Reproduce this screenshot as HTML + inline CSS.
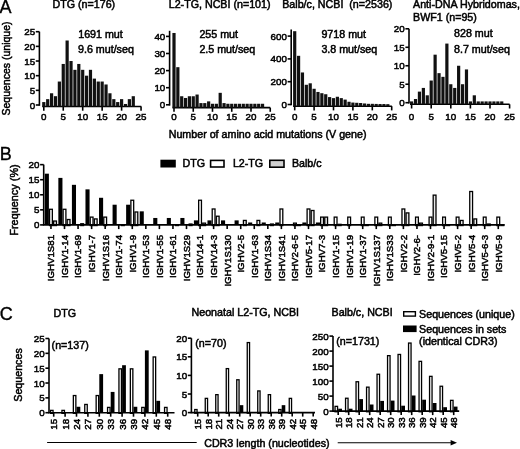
<!DOCTYPE html>
<html><head><meta charset="utf-8"><style>
html,body{margin:0;padding:0;background:#fff;}
body{width:520px;height:449px;overflow:hidden;}
svg{display:block;font-family:"Liberation Sans",sans-serif;filter:grayscale(1);}
text{stroke:#000;stroke-width:0.5px;}
</style></head><body>
<svg width="520" height="449" viewBox="0 0 520 449" fill="#000">
<rect x="0" y="0" width="520" height="449" fill="#fff"/>
<text x="-0.4" y="12.7" font-size="18" text-anchor="start" style="stroke-width:0.35px">A</text>
<text x="9.6" y="68.5" font-size="10.5" text-anchor="middle" transform="rotate(-90 9.6 68.5)">Sequences (unique)</text>
<text x="52.5" y="7.9" font-size="10.7" text-anchor="start">DTG (n=176)</text>
<text x="168.7" y="7.9" font-size="10.7" text-anchor="start">L2-TG, NCBI (n=101)</text>
<text x="282.2" y="7.9" font-size="10.7" text-anchor="start">Balb/c, NCBI&#160; (n=2536)</text>
<text x="413" y="8.3" font-size="10.7" text-anchor="start">Anti-DNA Hybridomas,</text>
<text x="413" y="21.4" font-size="10.7" text-anchor="start">BWF1 (n=95)</text>
<text x="78.2" y="37.8" font-size="10.7" text-anchor="start">1691 mut</text>
<text x="78" y="52.6" font-size="10.7" text-anchor="start">9.6 mut/seq</text>
<text x="199.4" y="37.6" font-size="10.7" text-anchor="start">255 mut</text>
<text x="199.4" y="53.4" font-size="10.7" text-anchor="start">2.5 mut/seq</text>
<text x="321.4" y="37.6" font-size="10.7" text-anchor="start">9718 mut</text>
<text x="321.4" y="53.4" font-size="10.7" text-anchor="start">3.8 mut/seq</text>
<text x="454" y="37.4" font-size="10.7" text-anchor="start">828 mut</text>
<text x="454" y="53" font-size="10.7" text-anchor="start">8.7 mut/seq</text>
<line x1="39.4" y1="31.7" x2="39.4" y2="105.8" stroke="#000" stroke-width="1.6"/>
<line x1="35.8" y1="105" x2="39.4" y2="105" stroke="#000" stroke-width="1.6"/>
<text x="35.1" y="108.53" font-size="9.8" text-anchor="end">0</text>
<line x1="35.8" y1="90.34" x2="39.4" y2="90.34" stroke="#000" stroke-width="1.6"/>
<text x="35.1" y="93.87" font-size="9.8" text-anchor="end">5</text>
<line x1="35.8" y1="75.68" x2="39.4" y2="75.68" stroke="#000" stroke-width="1.6"/>
<text x="35.1" y="79.21" font-size="9.8" text-anchor="end">10</text>
<line x1="35.8" y1="61.02" x2="39.4" y2="61.02" stroke="#000" stroke-width="1.6"/>
<text x="35.1" y="64.55" font-size="9.8" text-anchor="end">15</text>
<line x1="35.8" y1="46.36" x2="39.4" y2="46.36" stroke="#000" stroke-width="1.6"/>
<text x="35.1" y="49.89" font-size="9.8" text-anchor="end">20</text>
<line x1="35.8" y1="31.7" x2="39.4" y2="31.7" stroke="#000" stroke-width="1.6"/>
<text x="35.1" y="35.23" font-size="9.8" text-anchor="end">25</text>
<line x1="42.2" y1="106.5" x2="141.3" y2="106.5" stroke="#000" stroke-width="1.6"/>
<line x1="43.8" y1="106.5" x2="43.8" y2="110.7" stroke="#000" stroke-width="1.6"/>
<text x="43.8" y="120.4" font-size="9.8" text-anchor="middle">0</text>
<line x1="63.25" y1="106.5" x2="63.25" y2="110.7" stroke="#000" stroke-width="1.6"/>
<text x="63.25" y="120.4" font-size="9.8" text-anchor="middle">5</text>
<line x1="82.7" y1="106.5" x2="82.7" y2="110.7" stroke="#000" stroke-width="1.6"/>
<text x="82.7" y="120.4" font-size="9.8" text-anchor="middle">10</text>
<line x1="102.15" y1="106.5" x2="102.15" y2="110.7" stroke="#000" stroke-width="1.6"/>
<text x="102.15" y="120.4" font-size="9.8" text-anchor="middle">15</text>
<line x1="121.6" y1="106.5" x2="121.6" y2="110.7" stroke="#000" stroke-width="1.6"/>
<text x="121.6" y="120.4" font-size="9.8" text-anchor="middle">20</text>
<line x1="141.05" y1="106.5" x2="141.05" y2="110.7" stroke="#000" stroke-width="1.6"/>
<text x="141.05" y="120.4" font-size="9.8" text-anchor="middle">25</text>
<rect x="42.2" y="102.07" width="3.2" height="4.43" fill="#111"/>
<rect x="46.09" y="99.14" width="3.2" height="7.36" fill="#111"/>
<rect x="49.98" y="93.27" width="3.2" height="13.23" fill="#111"/>
<rect x="53.87" y="96.2" width="3.2" height="10.3" fill="#111"/>
<rect x="57.76" y="81.54" width="3.2" height="24.96" fill="#111"/>
<rect x="61.65" y="63.95" width="3.2" height="42.55" fill="#111"/>
<rect x="65.54" y="40.5" width="3.2" height="66" fill="#111"/>
<rect x="69.43" y="61.02" width="3.2" height="45.48" fill="#111"/>
<rect x="73.32" y="69.82" width="3.2" height="36.68" fill="#111"/>
<rect x="77.21" y="63.95" width="3.2" height="42.55" fill="#111"/>
<rect x="81.1" y="69.82" width="3.2" height="36.68" fill="#111"/>
<rect x="84.99" y="75.68" width="3.2" height="30.82" fill="#111"/>
<rect x="88.88" y="69.82" width="3.2" height="36.68" fill="#111"/>
<rect x="92.77" y="78.61" width="3.2" height="27.89" fill="#111"/>
<rect x="96.66" y="81.54" width="3.2" height="24.96" fill="#111"/>
<rect x="100.55" y="81.54" width="3.2" height="24.96" fill="#111"/>
<rect x="104.44" y="84.48" width="3.2" height="22.02" fill="#111"/>
<rect x="108.33" y="93.27" width="3.2" height="13.23" fill="#111"/>
<rect x="112.22" y="99.14" width="3.2" height="7.36" fill="#111"/>
<rect x="116.11" y="102.07" width="3.2" height="4.43" fill="#111"/>
<rect x="120" y="99.14" width="3.2" height="7.36" fill="#111"/>
<rect x="123.89" y="103.97" width="3.2" height="2.53" fill="#111"/>
<rect x="127.78" y="99.14" width="3.2" height="7.36" fill="#111"/>
<rect x="131.67" y="96.2" width="3.2" height="10.3" fill="#111"/>
<line x1="169.6" y1="30.8" x2="169.6" y2="105.6" stroke="#000" stroke-width="1.6"/>
<line x1="166" y1="104.8" x2="169.6" y2="104.8" stroke="#000" stroke-width="1.6"/>
<text x="165.3" y="108.33" font-size="9.8" text-anchor="end">0</text>
<line x1="166" y1="87.7" x2="169.6" y2="87.7" stroke="#000" stroke-width="1.6"/>
<text x="165.3" y="91.23" font-size="9.8" text-anchor="end">10</text>
<line x1="166" y1="70.6" x2="169.6" y2="70.6" stroke="#000" stroke-width="1.6"/>
<text x="165.3" y="74.13" font-size="9.8" text-anchor="end">20</text>
<line x1="166" y1="53.5" x2="169.6" y2="53.5" stroke="#000" stroke-width="1.6"/>
<text x="165.3" y="57.03" font-size="9.8" text-anchor="end">30</text>
<line x1="166" y1="36.4" x2="169.6" y2="36.4" stroke="#000" stroke-width="1.6"/>
<text x="165.3" y="39.93" font-size="9.8" text-anchor="end">40</text>
<line x1="172.4" y1="107.6" x2="270.2" y2="107.6" stroke="#000" stroke-width="1.6"/>
<line x1="174" y1="107.6" x2="174" y2="111.8" stroke="#000" stroke-width="1.6"/>
<text x="174" y="120.4" font-size="9.8" text-anchor="middle">0</text>
<line x1="193.25" y1="107.6" x2="193.25" y2="111.8" stroke="#000" stroke-width="1.6"/>
<text x="193.25" y="120.4" font-size="9.8" text-anchor="middle">5</text>
<line x1="212.5" y1="107.6" x2="212.5" y2="111.8" stroke="#000" stroke-width="1.6"/>
<text x="212.5" y="120.4" font-size="9.8" text-anchor="middle">10</text>
<line x1="231.75" y1="107.6" x2="231.75" y2="111.8" stroke="#000" stroke-width="1.6"/>
<text x="231.75" y="120.4" font-size="9.8" text-anchor="middle">15</text>
<line x1="251" y1="107.6" x2="251" y2="111.8" stroke="#000" stroke-width="1.6"/>
<text x="251" y="120.4" font-size="9.8" text-anchor="middle">20</text>
<line x1="270.25" y1="107.6" x2="270.25" y2="111.8" stroke="#000" stroke-width="1.6"/>
<text x="270.25" y="120.4" font-size="9.8" text-anchor="middle">25</text>
<rect x="172.4" y="32.98" width="3.2" height="74.62" fill="#111"/>
<rect x="176.25" y="67.18" width="3.2" height="40.42" fill="#111"/>
<rect x="180.1" y="96.25" width="3.2" height="11.35" fill="#111"/>
<rect x="183.95" y="97.96" width="3.2" height="9.64" fill="#111"/>
<rect x="187.8" y="96.25" width="3.2" height="11.35" fill="#111"/>
<rect x="191.65" y="96.25" width="3.2" height="11.35" fill="#111"/>
<rect x="195.5" y="94.54" width="3.2" height="13.06" fill="#111"/>
<rect x="199.35" y="103.09" width="3.2" height="4.51" fill="#111"/>
<rect x="203.2" y="103.09" width="3.2" height="4.51" fill="#111"/>
<rect x="207.05" y="101.38" width="3.2" height="6.22" fill="#111"/>
<rect x="210.9" y="103.77" width="3.2" height="3.83" fill="#111"/>
<rect x="214.75" y="103.77" width="3.2" height="3.83" fill="#111"/>
<rect x="218.6" y="92.83" width="3.2" height="14.77" fill="#111"/>
<rect x="222.45" y="103.09" width="3.2" height="4.51" fill="#111"/>
<rect x="226.3" y="103.77" width="3.2" height="3.83" fill="#111"/>
<rect x="230.15" y="103.77" width="3.2" height="3.83" fill="#111"/>
<rect x="234" y="103.77" width="3.2" height="3.83" fill="#111"/>
<rect x="237.85" y="103.77" width="3.2" height="3.83" fill="#111"/>
<rect x="241.7" y="103.77" width="3.2" height="3.83" fill="#111"/>
<rect x="245.55" y="103.77" width="3.2" height="3.83" fill="#111"/>
<rect x="249.4" y="103.77" width="3.2" height="3.83" fill="#111"/>
<rect x="253.25" y="103.77" width="3.2" height="3.83" fill="#111"/>
<rect x="257.1" y="103.77" width="3.2" height="3.83" fill="#111"/>
<rect x="260.95" y="103.77" width="3.2" height="3.83" fill="#111"/>
<line x1="291.2" y1="29.5" x2="291.2" y2="105.3" stroke="#000" stroke-width="1.6"/>
<line x1="287.6" y1="104.5" x2="291.2" y2="104.5" stroke="#000" stroke-width="1.6"/>
<text x="286.9" y="108.03" font-size="9.8" text-anchor="end">0</text>
<line x1="287.6" y1="81.7" x2="291.2" y2="81.7" stroke="#000" stroke-width="1.6"/>
<text x="286.9" y="85.23" font-size="9.8" text-anchor="end">200</text>
<line x1="287.6" y1="58.9" x2="291.2" y2="58.9" stroke="#000" stroke-width="1.6"/>
<text x="286.9" y="62.43" font-size="9.8" text-anchor="end">400</text>
<line x1="287.6" y1="36.1" x2="291.2" y2="36.1" stroke="#000" stroke-width="1.6"/>
<text x="286.9" y="39.63" font-size="9.8" text-anchor="end">600</text>
<line x1="293.1" y1="106.2" x2="391.9" y2="106.2" stroke="#000" stroke-width="1.6"/>
<line x1="294.7" y1="106.2" x2="294.7" y2="110.4" stroke="#000" stroke-width="1.6"/>
<text x="294.7" y="120.4" font-size="9.8" text-anchor="middle">0</text>
<line x1="314.1" y1="106.2" x2="314.1" y2="110.4" stroke="#000" stroke-width="1.6"/>
<text x="314.1" y="120.4" font-size="9.8" text-anchor="middle">5</text>
<line x1="333.5" y1="106.2" x2="333.5" y2="110.4" stroke="#000" stroke-width="1.6"/>
<text x="333.5" y="120.4" font-size="9.8" text-anchor="middle">10</text>
<line x1="352.9" y1="106.2" x2="352.9" y2="110.4" stroke="#000" stroke-width="1.6"/>
<text x="352.9" y="120.4" font-size="9.8" text-anchor="middle">15</text>
<line x1="372.3" y1="106.2" x2="372.3" y2="110.4" stroke="#000" stroke-width="1.6"/>
<text x="372.3" y="120.4" font-size="9.8" text-anchor="middle">20</text>
<line x1="391.7" y1="106.2" x2="391.7" y2="110.4" stroke="#000" stroke-width="1.6"/>
<text x="391.7" y="120.4" font-size="9.8" text-anchor="middle">25</text>
<rect x="293.1" y="31.2" width="3.2" height="75" fill="#111"/>
<rect x="296.98" y="55.82" width="3.2" height="50.38" fill="#111"/>
<rect x="300.86" y="72.47" width="3.2" height="33.73" fill="#111"/>
<rect x="304.74" y="84.78" width="3.2" height="21.42" fill="#111"/>
<rect x="308.62" y="83.3" width="3.2" height="22.9" fill="#111"/>
<rect x="312.5" y="88.77" width="3.2" height="17.43" fill="#111"/>
<rect x="316.38" y="91.96" width="3.2" height="14.24" fill="#111"/>
<rect x="320.26" y="93.21" width="3.2" height="12.99" fill="#111"/>
<rect x="324.14" y="94.24" width="3.2" height="11.96" fill="#111"/>
<rect x="328.02" y="97.09" width="3.2" height="9.11" fill="#111"/>
<rect x="331.9" y="98.12" width="3.2" height="8.08" fill="#111"/>
<rect x="335.78" y="96.75" width="3.2" height="9.45" fill="#111"/>
<rect x="339.66" y="98.12" width="3.2" height="8.08" fill="#111"/>
<rect x="343.54" y="99.6" width="3.2" height="6.6" fill="#111"/>
<rect x="347.42" y="101.76" width="3.2" height="4.44" fill="#111"/>
<rect x="351.3" y="102.56" width="3.2" height="3.64" fill="#111"/>
<rect x="355.18" y="102.79" width="3.2" height="3.41" fill="#111"/>
<rect x="359.06" y="103.02" width="3.2" height="3.18" fill="#111"/>
<rect x="362.94" y="103.47" width="3.2" height="2.73" fill="#111"/>
<rect x="366.82" y="103.82" width="3.2" height="2.38" fill="#111"/>
<rect x="370.7" y="103.82" width="3.2" height="2.38" fill="#111"/>
<rect x="374.58" y="103.93" width="3.2" height="2.27" fill="#111"/>
<rect x="378.46" y="104.04" width="3.2" height="2.16" fill="#111"/>
<rect x="382.34" y="104.04" width="3.2" height="2.16" fill="#111"/>
<rect x="386.22" y="104.16" width="3.2" height="2.04" fill="#111"/>
<line x1="409" y1="28.8" x2="409" y2="103.5" stroke="#000" stroke-width="1.6"/>
<line x1="405.4" y1="102.7" x2="409" y2="102.7" stroke="#000" stroke-width="1.6"/>
<text x="404.7" y="106.23" font-size="9.8" text-anchor="end">0</text>
<line x1="405.4" y1="84.23" x2="409" y2="84.23" stroke="#000" stroke-width="1.6"/>
<text x="404.7" y="87.75" font-size="9.8" text-anchor="end">5</text>
<line x1="405.4" y1="65.75" x2="409" y2="65.75" stroke="#000" stroke-width="1.6"/>
<text x="404.7" y="69.28" font-size="9.8" text-anchor="end">10</text>
<line x1="405.4" y1="47.28" x2="409" y2="47.28" stroke="#000" stroke-width="1.6"/>
<text x="404.7" y="50.8" font-size="9.8" text-anchor="end">15</text>
<line x1="405.4" y1="28.8" x2="409" y2="28.8" stroke="#000" stroke-width="1.6"/>
<text x="404.7" y="32.33" font-size="9.8" text-anchor="end">20</text>
<line x1="410" y1="104.3" x2="509.6" y2="104.3" stroke="#000" stroke-width="1.6"/>
<line x1="411.6" y1="104.3" x2="411.6" y2="108.5" stroke="#000" stroke-width="1.6"/>
<text x="411.6" y="120.4" font-size="9.8" text-anchor="middle">0</text>
<line x1="431.2" y1="104.3" x2="431.2" y2="108.5" stroke="#000" stroke-width="1.6"/>
<text x="431.2" y="120.4" font-size="9.8" text-anchor="middle">5</text>
<line x1="450.8" y1="104.3" x2="450.8" y2="108.5" stroke="#000" stroke-width="1.6"/>
<text x="450.8" y="120.4" font-size="9.8" text-anchor="middle">10</text>
<line x1="470.4" y1="104.3" x2="470.4" y2="108.5" stroke="#000" stroke-width="1.6"/>
<text x="470.4" y="120.4" font-size="9.8" text-anchor="middle">15</text>
<line x1="490" y1="104.3" x2="490" y2="108.5" stroke="#000" stroke-width="1.6"/>
<text x="490" y="120.4" font-size="9.8" text-anchor="middle">20</text>
<line x1="509.6" y1="104.3" x2="509.6" y2="108.5" stroke="#000" stroke-width="1.6"/>
<text x="509.6" y="120.4" font-size="9.8" text-anchor="middle">25</text>
<rect x="410" y="101.41" width="3.2" height="2.89" fill="#111"/>
<rect x="413.92" y="99.01" width="3.2" height="5.29" fill="#111"/>
<rect x="417.84" y="91.62" width="3.2" height="12.68" fill="#111"/>
<rect x="421.76" y="87.92" width="3.2" height="16.38" fill="#111"/>
<rect x="425.68" y="95.31" width="3.2" height="8.99" fill="#111"/>
<rect x="429.6" y="80.53" width="3.2" height="23.77" fill="#111"/>
<rect x="433.52" y="54.67" width="3.2" height="49.63" fill="#111"/>
<rect x="437.44" y="73.14" width="3.2" height="31.16" fill="#111"/>
<rect x="441.36" y="76.84" width="3.2" height="27.46" fill="#111"/>
<rect x="445.28" y="43.58" width="3.2" height="60.72" fill="#111"/>
<rect x="449.2" y="84.23" width="3.2" height="20.07" fill="#111"/>
<rect x="453.12" y="87.92" width="3.2" height="16.38" fill="#111"/>
<rect x="457.04" y="65.75" width="3.2" height="38.55" fill="#111"/>
<rect x="460.96" y="84.23" width="3.2" height="20.07" fill="#111"/>
<rect x="464.88" y="69.45" width="3.2" height="34.85" fill="#111"/>
<rect x="468.8" y="101.41" width="3.2" height="2.89" fill="#111"/>
<rect x="472.72" y="95.31" width="3.2" height="8.99" fill="#111"/>
<rect x="476.64" y="101.41" width="3.2" height="2.89" fill="#111"/>
<rect x="480.56" y="101.41" width="3.2" height="2.89" fill="#111"/>
<rect x="484.48" y="101.41" width="3.2" height="2.89" fill="#111"/>
<rect x="488.4" y="101.41" width="3.2" height="2.89" fill="#111"/>
<rect x="492.32" y="101.41" width="3.2" height="2.89" fill="#111"/>
<rect x="496.24" y="101.41" width="3.2" height="2.89" fill="#111"/>
<rect x="500.16" y="101.41" width="3.2" height="2.89" fill="#111"/>
<text x="168.7" y="137.5" font-size="10.7" text-anchor="start">Number of amino acid mutations (V gene)</text>
<text x="-0.2" y="160" font-size="18" text-anchor="start" style="stroke-width:0.35px">B</text>
<text x="18" y="200" font-size="10.9" text-anchor="middle" transform="rotate(-90 18 200)">Frequency (%)</text>
<rect x="160.4" y="159.7" width="15.4" height="7.8" fill="#000"/>
<text x="182.6" y="167.4" font-size="10.7" text-anchor="start">DTG</text>
<rect x="210.6" y="160.4" width="13.4" height="6.6" fill="#fff" stroke="#000" stroke-width="1.6"/>
<text x="232.9" y="167.4" font-size="10.7" text-anchor="start">L2-TG</text>
<rect x="269.8" y="160.3" width="14.2" height="6.9" fill="#d0d0d0" stroke="#000" stroke-width="1.6"/>
<text x="291.9" y="167.4" font-size="10.7" text-anchor="start">Balb/c</text>
<rect x="44.8" y="173.68" width="4.1" height="51.22" fill="#000"/>
<rect x="49.55" y="209.28" width="2.8" height="16.27" fill="#fff" stroke="#000" stroke-width="1.3"/>
<rect x="53.65" y="221.03" width="2.8" height="4.52" fill="#e8e8e8" stroke="#000" stroke-width="1.3"/>
<line x1="50.95" y1="224.9" x2="50.95" y2="229.1" stroke="#000" stroke-width="1.6"/>
<text x="54.35" y="234.9" font-size="9.7" text-anchor="end" transform="rotate(-90 54.35 234.9)">IGHV1S81</text>
<rect x="58.35" y="177.9" width="4.1" height="47" fill="#000"/>
<rect x="63.1" y="209.28" width="2.8" height="16.27" fill="#fff" stroke="#000" stroke-width="1.3"/>
<rect x="67.2" y="219.52" width="2.8" height="6.03" fill="#e8e8e8" stroke="#000" stroke-width="1.3"/>
<line x1="64.5" y1="224.9" x2="64.5" y2="229.1" stroke="#000" stroke-width="1.6"/>
<text x="67.91" y="234.9" font-size="9.7" text-anchor="end" transform="rotate(-90 67.91 234.9)">IGHV1-14</text>
<rect x="71.91" y="184.83" width="4.1" height="40.07" fill="#000"/>
<rect x="80.76" y="223.74" width="2.8" height="1.81" fill="#e8e8e8" stroke="#000" stroke-width="1.3"/>
<line x1="78.06" y1="224.9" x2="78.06" y2="229.1" stroke="#000" stroke-width="1.6"/>
<text x="81.46" y="234.9" font-size="9.7" text-anchor="end" transform="rotate(-90 81.46 234.9)">IGHV1-69</text>
<rect x="85.47" y="189.35" width="4.1" height="35.55" fill="#000"/>
<rect x="90.22" y="217.11" width="2.8" height="8.44" fill="#fff" stroke="#000" stroke-width="1.3"/>
<rect x="94.32" y="218.92" width="2.8" height="6.63" fill="#e8e8e8" stroke="#000" stroke-width="1.3"/>
<line x1="91.62" y1="224.9" x2="91.62" y2="229.1" stroke="#000" stroke-width="1.6"/>
<text x="95.02" y="234.9" font-size="9.7" text-anchor="end" transform="rotate(-90 95.02 234.9)">IGHV1-7</text>
<rect x="99.02" y="197.78" width="4.1" height="27.12" fill="#000"/>
<rect x="103.77" y="217.11" width="2.8" height="8.44" fill="#fff" stroke="#000" stroke-width="1.3"/>
<line x1="105.17" y1="224.9" x2="105.17" y2="229.1" stroke="#000" stroke-width="1.6"/>
<text x="108.57" y="234.9" font-size="9.7" text-anchor="end" transform="rotate(-90 108.57 234.9)">IGHV1S16</text>
<rect x="112.58" y="204.71" width="4.1" height="20.19" fill="#000"/>
<rect x="121.43" y="224.65" width="2.8" height="0.9" fill="#e8e8e8" stroke="#000" stroke-width="1.3"/>
<line x1="118.73" y1="224.9" x2="118.73" y2="229.1" stroke="#000" stroke-width="1.6"/>
<text x="122.13" y="234.9" font-size="9.7" text-anchor="end" transform="rotate(-90 122.13 234.9)">IGHV1-74</text>
<rect x="126.13" y="204.71" width="4.1" height="20.19" fill="#000"/>
<rect x="130.88" y="200.24" width="2.8" height="25.31" fill="#fff" stroke="#000" stroke-width="1.3"/>
<rect x="134.98" y="211.99" width="2.8" height="13.56" fill="#e8e8e8" stroke="#000" stroke-width="1.3"/>
<line x1="132.28" y1="224.9" x2="132.28" y2="229.1" stroke="#000" stroke-width="1.6"/>
<text x="135.68" y="234.9" font-size="9.7" text-anchor="end" transform="rotate(-90 135.68 234.9)">IGHV1-9</text>
<rect x="139.69" y="211.34" width="4.1" height="13.56" fill="#000"/>
<line x1="145.84" y1="224.9" x2="145.84" y2="229.1" stroke="#000" stroke-width="1.6"/>
<text x="149.24" y="234.9" font-size="9.7" text-anchor="end" transform="rotate(-90 149.24 234.9)">IGHV1-53</text>
<rect x="153.24" y="217.97" width="4.1" height="6.93" fill="#000"/>
<line x1="159.39" y1="224.9" x2="159.39" y2="229.1" stroke="#000" stroke-width="1.6"/>
<text x="162.79" y="234.9" font-size="9.7" text-anchor="end" transform="rotate(-90 162.79 234.9)">IGHV1-55</text>
<rect x="166.8" y="217.97" width="4.1" height="6.93" fill="#000"/>
<rect x="175.65" y="224.65" width="2.8" height="0.9" fill="#e8e8e8" stroke="#000" stroke-width="1.3"/>
<line x1="172.95" y1="224.9" x2="172.95" y2="229.1" stroke="#000" stroke-width="1.6"/>
<text x="176.35" y="234.9" font-size="9.7" text-anchor="end" transform="rotate(-90 176.35 234.9)">IGHV1-61</text>
<rect x="180.35" y="217.97" width="4.1" height="6.93" fill="#000"/>
<rect x="189.2" y="224.04" width="2.8" height="1.51" fill="#e8e8e8" stroke="#000" stroke-width="1.3"/>
<line x1="186.5" y1="224.9" x2="186.5" y2="229.1" stroke="#000" stroke-width="1.6"/>
<text x="189.9" y="234.9" font-size="9.7" text-anchor="end" transform="rotate(-90 189.9 234.9)">IGHV1S29</text>
<rect x="193.9" y="220.38" width="4.1" height="4.52" fill="#000"/>
<rect x="198.65" y="200.24" width="2.8" height="25.31" fill="#fff" stroke="#000" stroke-width="1.3"/>
<rect x="202.75" y="223.14" width="2.8" height="2.41" fill="#e8e8e8" stroke="#000" stroke-width="1.3"/>
<line x1="200.05" y1="224.9" x2="200.05" y2="229.1" stroke="#000" stroke-width="1.6"/>
<text x="203.45" y="234.9" font-size="9.7" text-anchor="end" transform="rotate(-90 203.45 234.9)">IGHV14-1</text>
<rect x="207.46" y="220.38" width="4.1" height="4.52" fill="#000"/>
<rect x="212.21" y="208.98" width="2.8" height="16.57" fill="#fff" stroke="#000" stroke-width="1.3"/>
<rect x="216.31" y="216.21" width="2.8" height="9.34" fill="#e8e8e8" stroke="#000" stroke-width="1.3"/>
<line x1="213.61" y1="224.9" x2="213.61" y2="229.1" stroke="#000" stroke-width="1.6"/>
<text x="217.01" y="234.9" font-size="9.7" text-anchor="end" transform="rotate(-90 217.01 234.9)">IGHV14-3</text>
<rect x="221.01" y="220.38" width="4.1" height="4.52" fill="#000"/>
<line x1="227.16" y1="224.9" x2="227.16" y2="229.1" stroke="#000" stroke-width="1.6"/>
<text x="230.56" y="234.9" font-size="9.7" text-anchor="end" transform="rotate(-90 230.56 234.9)">IGHV1S130</text>
<rect x="234.57" y="220.38" width="4.1" height="4.52" fill="#000"/>
<rect x="243.42" y="220.43" width="2.8" height="5.12" fill="#e8e8e8" stroke="#000" stroke-width="1.3"/>
<line x1="240.72" y1="224.9" x2="240.72" y2="229.1" stroke="#000" stroke-width="1.6"/>
<text x="244.12" y="234.9" font-size="9.7" text-anchor="end" transform="rotate(-90 244.12 234.9)">IGHV2-5</text>
<rect x="248.12" y="222.49" width="4.1" height="2.41" fill="#000"/>
<rect x="256.97" y="220.43" width="2.8" height="5.12" fill="#e8e8e8" stroke="#000" stroke-width="1.3"/>
<line x1="254.28" y1="224.9" x2="254.28" y2="229.1" stroke="#000" stroke-width="1.6"/>
<text x="257.68" y="234.9" font-size="9.7" text-anchor="end" transform="rotate(-90 257.68 234.9)">IGHV1-63</text>
<rect x="261.68" y="222.49" width="4.1" height="2.41" fill="#000"/>
<rect x="270.53" y="224.04" width="2.8" height="1.51" fill="#e8e8e8" stroke="#000" stroke-width="1.3"/>
<line x1="267.83" y1="224.9" x2="267.83" y2="229.1" stroke="#000" stroke-width="1.6"/>
<text x="271.23" y="234.9" font-size="9.7" text-anchor="end" transform="rotate(-90 271.23 234.9)">IGHV1S34</text>
<rect x="275.24" y="222.49" width="4.1" height="2.41" fill="#000"/>
<rect x="279.99" y="208.98" width="2.8" height="16.57" fill="#fff" stroke="#000" stroke-width="1.3"/>
<line x1="281.38" y1="224.9" x2="281.38" y2="229.1" stroke="#000" stroke-width="1.6"/>
<text x="284.78" y="234.9" font-size="9.7" text-anchor="end" transform="rotate(-90 284.78 234.9)">IGHV1S41</text>
<rect x="293.54" y="223.14" width="2.8" height="2.41" fill="#fff" stroke="#000" stroke-width="1.3"/>
<rect x="297.64" y="224.65" width="2.8" height="0.9" fill="#e8e8e8" stroke="#000" stroke-width="1.3"/>
<line x1="294.94" y1="224.9" x2="294.94" y2="229.1" stroke="#000" stroke-width="1.6"/>
<text x="298.34" y="234.9" font-size="9.7" text-anchor="end" transform="rotate(-90 298.34 234.9)">IGHV2-6-5</text>
<rect x="302.35" y="222.49" width="4.1" height="2.41" fill="#000"/>
<rect x="307.1" y="208.98" width="2.8" height="16.57" fill="#fff" stroke="#000" stroke-width="1.3"/>
<rect x="311.19" y="210.49" width="2.8" height="15.06" fill="#e8e8e8" stroke="#000" stroke-width="1.3"/>
<line x1="308.5" y1="224.9" x2="308.5" y2="229.1" stroke="#000" stroke-width="1.6"/>
<text x="311.89" y="234.9" font-size="9.7" text-anchor="end" transform="rotate(-90 311.89 234.9)">IGHV5-17</text>
<rect x="315.9" y="222.49" width="4.1" height="2.41" fill="#000"/>
<rect x="320.65" y="217.11" width="2.8" height="8.44" fill="#fff" stroke="#000" stroke-width="1.3"/>
<rect x="324.75" y="217.11" width="2.8" height="8.44" fill="#e8e8e8" stroke="#000" stroke-width="1.3"/>
<line x1="322.05" y1="224.9" x2="322.05" y2="229.1" stroke="#000" stroke-width="1.6"/>
<text x="325.45" y="234.9" font-size="9.7" text-anchor="end" transform="rotate(-90 325.45 234.9)">IGHV7-3</text>
<rect x="334.2" y="217.11" width="2.8" height="8.44" fill="#fff" stroke="#000" stroke-width="1.3"/>
<rect x="338.3" y="224.34" width="2.8" height="1.21" fill="#e8e8e8" stroke="#000" stroke-width="1.3"/>
<line x1="335.6" y1="224.9" x2="335.6" y2="229.1" stroke="#000" stroke-width="1.6"/>
<text x="339" y="234.9" font-size="9.7" text-anchor="end" transform="rotate(-90 339 234.9)">IGHV1-15</text>
<rect x="347.76" y="217.11" width="2.8" height="8.44" fill="#fff" stroke="#000" stroke-width="1.3"/>
<line x1="349.16" y1="224.9" x2="349.16" y2="229.1" stroke="#000" stroke-width="1.6"/>
<text x="352.56" y="234.9" font-size="9.7" text-anchor="end" transform="rotate(-90 352.56 234.9)">IGHV1-19</text>
<rect x="361.31" y="217.11" width="2.8" height="8.44" fill="#fff" stroke="#000" stroke-width="1.3"/>
<rect x="365.41" y="224.65" width="2.8" height="0.9" fill="#e8e8e8" stroke="#000" stroke-width="1.3"/>
<line x1="362.71" y1="224.9" x2="362.71" y2="229.1" stroke="#000" stroke-width="1.6"/>
<text x="366.11" y="234.9" font-size="9.7" text-anchor="end" transform="rotate(-90 366.11 234.9)">IGHV1-37</text>
<rect x="374.87" y="217.11" width="2.8" height="8.44" fill="#fff" stroke="#000" stroke-width="1.3"/>
<rect x="378.97" y="223.14" width="2.8" height="2.41" fill="#e8e8e8" stroke="#000" stroke-width="1.3"/>
<line x1="376.27" y1="224.9" x2="376.27" y2="229.1" stroke="#000" stroke-width="1.6"/>
<text x="379.67" y="234.9" font-size="9.7" text-anchor="end" transform="rotate(-90 379.67 234.9)">IGHV1S137</text>
<rect x="388.43" y="217.11" width="2.8" height="8.44" fill="#fff" stroke="#000" stroke-width="1.3"/>
<rect x="392.52" y="224.65" width="2.8" height="0.9" fill="#e8e8e8" stroke="#000" stroke-width="1.3"/>
<line x1="389.82" y1="224.9" x2="389.82" y2="229.1" stroke="#000" stroke-width="1.6"/>
<text x="393.22" y="234.9" font-size="9.7" text-anchor="end" transform="rotate(-90 393.22 234.9)">IGHV1S33</text>
<rect x="401.98" y="208.98" width="2.8" height="16.57" fill="#fff" stroke="#000" stroke-width="1.3"/>
<rect x="406.08" y="212.9" width="2.8" height="12.65" fill="#e8e8e8" stroke="#000" stroke-width="1.3"/>
<line x1="403.38" y1="224.9" x2="403.38" y2="229.1" stroke="#000" stroke-width="1.6"/>
<text x="406.78" y="234.9" font-size="9.7" text-anchor="end" transform="rotate(-90 406.78 234.9)">IGHV2-2</text>
<rect x="415.54" y="217.11" width="2.8" height="8.44" fill="#fff" stroke="#000" stroke-width="1.3"/>
<rect x="419.63" y="223.14" width="2.8" height="2.41" fill="#e8e8e8" stroke="#000" stroke-width="1.3"/>
<line x1="416.94" y1="224.9" x2="416.94" y2="229.1" stroke="#000" stroke-width="1.6"/>
<text x="420.33" y="234.9" font-size="9.7" text-anchor="end" transform="rotate(-90 420.33 234.9)">IGHV2-6-</text>
<rect x="429.09" y="217.11" width="2.8" height="8.44" fill="#fff" stroke="#000" stroke-width="1.3"/>
<rect x="433.19" y="195.12" width="2.8" height="30.43" fill="#e8e8e8" stroke="#000" stroke-width="1.3"/>
<line x1="430.49" y1="224.9" x2="430.49" y2="229.1" stroke="#000" stroke-width="1.6"/>
<text x="433.89" y="234.9" font-size="9.7" text-anchor="end" transform="rotate(-90 433.89 234.9)">IGHV2-9-1</text>
<rect x="442.64" y="217.11" width="2.8" height="8.44" fill="#fff" stroke="#000" stroke-width="1.3"/>
<rect x="446.74" y="224.65" width="2.8" height="0.9" fill="#e8e8e8" stroke="#000" stroke-width="1.3"/>
<line x1="444.04" y1="224.9" x2="444.04" y2="229.1" stroke="#000" stroke-width="1.6"/>
<text x="447.44" y="234.9" font-size="9.7" text-anchor="end" transform="rotate(-90 447.44 234.9)">IGHV5-15</text>
<rect x="456.2" y="217.11" width="2.8" height="8.44" fill="#fff" stroke="#000" stroke-width="1.3"/>
<rect x="460.3" y="220.43" width="2.8" height="5.12" fill="#e8e8e8" stroke="#000" stroke-width="1.3"/>
<line x1="457.6" y1="224.9" x2="457.6" y2="229.1" stroke="#000" stroke-width="1.6"/>
<text x="461" y="234.9" font-size="9.7" text-anchor="end" transform="rotate(-90 461 234.9)">IGHV5-2</text>
<rect x="469.75" y="191.5" width="2.8" height="34.05" fill="#fff" stroke="#000" stroke-width="1.3"/>
<rect x="473.85" y="218.92" width="2.8" height="6.63" fill="#e8e8e8" stroke="#000" stroke-width="1.3"/>
<line x1="471.15" y1="224.9" x2="471.15" y2="229.1" stroke="#000" stroke-width="1.6"/>
<text x="474.55" y="234.9" font-size="9.7" text-anchor="end" transform="rotate(-90 474.55 234.9)">IGHV5-4</text>
<rect x="483.31" y="217.11" width="2.8" height="8.44" fill="#fff" stroke="#000" stroke-width="1.3"/>
<rect x="487.41" y="224.04" width="2.8" height="1.51" fill="#e8e8e8" stroke="#000" stroke-width="1.3"/>
<line x1="484.71" y1="224.9" x2="484.71" y2="229.1" stroke="#000" stroke-width="1.6"/>
<text x="488.11" y="234.9" font-size="9.7" text-anchor="end" transform="rotate(-90 488.11 234.9)">IGHV5-6-3</text>
<rect x="496.87" y="217.11" width="2.8" height="8.44" fill="#fff" stroke="#000" stroke-width="1.3"/>
<rect x="500.96" y="224.65" width="2.8" height="0.9" fill="#e8e8e8" stroke="#000" stroke-width="1.3"/>
<line x1="498.26" y1="224.9" x2="498.26" y2="229.1" stroke="#000" stroke-width="1.6"/>
<text x="501.66" y="234.9" font-size="9.7" text-anchor="end" transform="rotate(-90 501.66 234.9)">IGHV5-9</text>
<line x1="43.7" y1="164.6" x2="43.7" y2="224.9" stroke="#000" stroke-width="1.6"/>
<line x1="40.1" y1="224.9" x2="43.7" y2="224.9" stroke="#000" stroke-width="1.6"/>
<text x="39.4" y="228.43" font-size="9.8" text-anchor="end">0</text>
<line x1="40.1" y1="209.84" x2="43.7" y2="209.84" stroke="#000" stroke-width="1.6"/>
<text x="39.4" y="213.36" font-size="9.8" text-anchor="end">5</text>
<line x1="40.1" y1="194.77" x2="43.7" y2="194.77" stroke="#000" stroke-width="1.6"/>
<text x="39.4" y="198.3" font-size="9.8" text-anchor="end">10</text>
<line x1="40.1" y1="179.71" x2="43.7" y2="179.71" stroke="#000" stroke-width="1.6"/>
<text x="39.4" y="183.23" font-size="9.8" text-anchor="end">15</text>
<line x1="40.1" y1="164.64" x2="43.7" y2="164.64" stroke="#000" stroke-width="1.6"/>
<text x="39.4" y="168.17" font-size="9.8" text-anchor="end">20</text>
<line x1="42.9" y1="224.9" x2="504.6" y2="224.9" stroke="#000" stroke-width="1.6"/>
<text x="-0.2" y="320" font-size="18" text-anchor="start" style="stroke-width:0.35px">C</text>
<text x="22.3" y="375" font-size="10.7" text-anchor="middle" transform="rotate(-90 22.3 375)">Sequences</text>
<text x="53.6" y="317" font-size="10.7" text-anchor="start">DTG</text>
<text x="191.5" y="315.8" font-size="10.7" text-anchor="start">Neonatal L2-TG, NCBI</text>
<text x="331.5" y="316.3" font-size="10.7" text-anchor="start">Balb/c, NCBI</text>
<text x="51.6" y="348.5" font-size="10.7" text-anchor="start">(n=137)</text>
<text x="195.3" y="346.5" font-size="10.7" text-anchor="start">(n=70)</text>
<text x="336.3" y="345.3" font-size="10.7" text-anchor="start">(n=1731)</text>
<rect x="403.7" y="311.7" width="11.7" height="4.4" fill="#fff" stroke="#000" stroke-width="1.4"/>
<text x="419.1" y="317.5" font-size="10.7" text-anchor="start">Sequences (unique)</text>
<rect x="403" y="325.5" width="13.6" height="6.6" fill="#000"/>
<text x="419.1" y="333" font-size="10.7" text-anchor="start">Sequences in sets</text>
<text x="419.1" y="345" font-size="10.7" text-anchor="start">(identical CDR3)</text>
<rect x="50.55" y="410.38" width="2.5" height="2.97" fill="#fff" stroke="#000" stroke-width="1.3"/>
<line x1="53.7" y1="412.7" x2="53.7" y2="416.7" stroke="#000" stroke-width="1.6"/>
<text x="57.2" y="418.9" font-size="9.7" text-anchor="end" transform="rotate(-90 57.2 418.9)">15</text>
<rect x="61.95" y="410.38" width="2.5" height="2.97" fill="#fff" stroke="#000" stroke-width="1.3"/>
<line x1="65.1" y1="412.7" x2="65.1" y2="416.7" stroke="#000" stroke-width="1.6"/>
<text x="68.6" y="418.9" font-size="9.7" text-anchor="end" transform="rotate(-90 68.6 418.9)">18</text>
<rect x="73.35" y="395.54" width="2.5" height="17.81" fill="#fff" stroke="#000" stroke-width="1.3"/>
<rect x="76.5" y="406.76" width="3.8" height="5.94" fill="#000"/>
<line x1="76.5" y1="412.7" x2="76.5" y2="416.7" stroke="#000" stroke-width="1.6"/>
<text x="80" y="418.9" font-size="9.7" text-anchor="end" transform="rotate(-90 80 418.9)">24</text>
<rect x="84.75" y="404.45" width="2.5" height="8.9" fill="#fff" stroke="#000" stroke-width="1.3"/>
<line x1="87.9" y1="412.7" x2="87.9" y2="416.7" stroke="#000" stroke-width="1.6"/>
<text x="91.4" y="418.9" font-size="9.7" text-anchor="end" transform="rotate(-90 91.4 418.9)">27</text>
<rect x="96.15" y="395.54" width="2.5" height="17.81" fill="#fff" stroke="#000" stroke-width="1.3"/>
<rect x="99.3" y="374.12" width="3.8" height="38.58" fill="#000"/>
<line x1="99.3" y1="412.7" x2="99.3" y2="416.7" stroke="#000" stroke-width="1.6"/>
<text x="102.8" y="418.9" font-size="9.7" text-anchor="end" transform="rotate(-90 102.8 418.9)">30</text>
<rect x="107.55" y="407.41" width="2.5" height="5.94" fill="#fff" stroke="#000" stroke-width="1.3"/>
<rect x="110.7" y="391.92" width="3.8" height="20.78" fill="#000"/>
<line x1="110.7" y1="412.7" x2="110.7" y2="416.7" stroke="#000" stroke-width="1.6"/>
<text x="114.2" y="418.9" font-size="9.7" text-anchor="end" transform="rotate(-90 114.2 418.9)">33</text>
<rect x="118.95" y="368.83" width="2.5" height="44.52" fill="#fff" stroke="#000" stroke-width="1.3"/>
<rect x="122.1" y="365.21" width="3.8" height="47.49" fill="#000"/>
<line x1="122.1" y1="412.7" x2="122.1" y2="416.7" stroke="#000" stroke-width="1.6"/>
<text x="125.6" y="418.9" font-size="9.7" text-anchor="end" transform="rotate(-90 125.6 418.9)">36</text>
<rect x="130.35" y="368.83" width="2.5" height="44.52" fill="#fff" stroke="#000" stroke-width="1.3"/>
<rect x="133.5" y="406.76" width="3.8" height="5.94" fill="#000"/>
<line x1="133.5" y1="412.7" x2="133.5" y2="416.7" stroke="#000" stroke-width="1.6"/>
<text x="137" y="418.9" font-size="9.7" text-anchor="end" transform="rotate(-90 137 418.9)">39</text>
<rect x="141.75" y="407.41" width="2.5" height="5.94" fill="#fff" stroke="#000" stroke-width="1.3"/>
<rect x="144.9" y="350.37" width="3.8" height="62.33" fill="#000"/>
<line x1="144.9" y1="412.7" x2="144.9" y2="416.7" stroke="#000" stroke-width="1.6"/>
<text x="148.4" y="418.9" font-size="9.7" text-anchor="end" transform="rotate(-90 148.4 418.9)">42</text>
<rect x="153.15" y="356.96" width="2.5" height="56.39" fill="#fff" stroke="#000" stroke-width="1.3"/>
<rect x="156.3" y="400.83" width="3.8" height="11.87" fill="#000"/>
<line x1="156.3" y1="412.7" x2="156.3" y2="416.7" stroke="#000" stroke-width="1.6"/>
<text x="159.8" y="418.9" font-size="9.7" text-anchor="end" transform="rotate(-90 159.8 418.9)">45</text>
<rect x="164.55" y="407.41" width="2.5" height="5.94" fill="#fff" stroke="#000" stroke-width="1.3"/>
<line x1="167.7" y1="412.7" x2="167.7" y2="416.7" stroke="#000" stroke-width="1.6"/>
<text x="171.2" y="418.9" font-size="9.7" text-anchor="end" transform="rotate(-90 171.2 418.9)">48</text>
<line x1="49" y1="338.4" x2="49" y2="412.7" stroke="#000" stroke-width="1.6"/>
<line x1="45.4" y1="412.7" x2="49" y2="412.7" stroke="#000" stroke-width="1.6"/>
<text x="44.7" y="416.23" font-size="9.8" text-anchor="end">0</text>
<line x1="45.4" y1="397.86" x2="49" y2="397.86" stroke="#000" stroke-width="1.6"/>
<text x="44.7" y="401.39" font-size="9.8" text-anchor="end">5</text>
<line x1="45.4" y1="383.02" x2="49" y2="383.02" stroke="#000" stroke-width="1.6"/>
<text x="44.7" y="386.55" font-size="9.8" text-anchor="end">10</text>
<line x1="45.4" y1="368.18" x2="49" y2="368.18" stroke="#000" stroke-width="1.6"/>
<text x="44.7" y="371.71" font-size="9.8" text-anchor="end">15</text>
<line x1="45.4" y1="353.34" x2="49" y2="353.34" stroke="#000" stroke-width="1.6"/>
<text x="44.7" y="356.87" font-size="9.8" text-anchor="end">20</text>
<line x1="45.4" y1="338.5" x2="49" y2="338.5" stroke="#000" stroke-width="1.6"/>
<text x="44.7" y="342.03" font-size="9.8" text-anchor="end">25</text>
<line x1="48.2" y1="412.7" x2="174.5" y2="412.7" stroke="#000" stroke-width="1.6"/>
<rect x="194.75" y="409.53" width="2.3" height="3.72" fill="#fff" stroke="#000" stroke-width="1.3"/>
<line x1="197.7" y1="412.6" x2="197.7" y2="416.6" stroke="#000" stroke-width="1.6"/>
<text x="201.2" y="418.8" font-size="9.7" text-anchor="end" transform="rotate(-90 201.2 418.8)">15</text>
<rect x="205.25" y="398.37" width="2.3" height="14.88" fill="#fff" stroke="#000" stroke-width="1.3"/>
<line x1="208.2" y1="412.6" x2="208.2" y2="416.6" stroke="#000" stroke-width="1.6"/>
<text x="211.7" y="418.8" font-size="9.7" text-anchor="end" transform="rotate(-90 211.7 418.8)">18</text>
<rect x="215.75" y="394.65" width="2.3" height="18.6" fill="#fff" stroke="#000" stroke-width="1.3"/>
<line x1="218.7" y1="412.6" x2="218.7" y2="416.6" stroke="#000" stroke-width="1.6"/>
<text x="222.2" y="418.8" font-size="9.7" text-anchor="end" transform="rotate(-90 222.2 418.8)">21</text>
<rect x="226.25" y="368.61" width="2.3" height="44.64" fill="#fff" stroke="#000" stroke-width="1.3"/>
<line x1="229.2" y1="412.6" x2="229.2" y2="416.6" stroke="#000" stroke-width="1.6"/>
<text x="232.7" y="418.8" font-size="9.7" text-anchor="end" transform="rotate(-90 232.7 418.8)">24</text>
<rect x="236.75" y="379.77" width="2.3" height="33.48" fill="#fff" stroke="#000" stroke-width="1.3"/>
<rect x="239.7" y="405.16" width="3.6" height="7.44" fill="#000"/>
<line x1="239.7" y1="412.6" x2="239.7" y2="416.6" stroke="#000" stroke-width="1.6"/>
<text x="243.2" y="418.8" font-size="9.7" text-anchor="end" transform="rotate(-90 243.2 418.8)">27</text>
<rect x="247.25" y="342.57" width="2.3" height="70.68" fill="#fff" stroke="#000" stroke-width="1.3"/>
<line x1="250.2" y1="412.6" x2="250.2" y2="416.6" stroke="#000" stroke-width="1.6"/>
<text x="253.7" y="418.8" font-size="9.7" text-anchor="end" transform="rotate(-90 253.7 418.8)">30</text>
<rect x="257.75" y="390.93" width="2.3" height="22.32" fill="#fff" stroke="#000" stroke-width="1.3"/>
<line x1="260.7" y1="412.6" x2="260.7" y2="416.6" stroke="#000" stroke-width="1.6"/>
<text x="264.2" y="418.8" font-size="9.7" text-anchor="end" transform="rotate(-90 264.2 418.8)">33</text>
<rect x="268.25" y="394.65" width="2.3" height="18.6" fill="#fff" stroke="#000" stroke-width="1.3"/>
<line x1="271.2" y1="412.6" x2="271.2" y2="416.6" stroke="#000" stroke-width="1.6"/>
<text x="274.7" y="418.8" font-size="9.7" text-anchor="end" transform="rotate(-90 274.7 418.8)">36</text>
<rect x="278.75" y="409.53" width="2.3" height="3.72" fill="#fff" stroke="#000" stroke-width="1.3"/>
<rect x="281.7" y="405.16" width="3.6" height="7.44" fill="#000"/>
<line x1="281.7" y1="412.6" x2="281.7" y2="416.6" stroke="#000" stroke-width="1.6"/>
<text x="285.2" y="418.8" font-size="9.7" text-anchor="end" transform="rotate(-90 285.2 418.8)">39</text>
<rect x="289.25" y="398.37" width="2.3" height="14.88" fill="#fff" stroke="#000" stroke-width="1.3"/>
<line x1="292.2" y1="412.6" x2="292.2" y2="416.6" stroke="#000" stroke-width="1.6"/>
<text x="295.7" y="418.8" font-size="9.7" text-anchor="end" transform="rotate(-90 295.7 418.8)">42</text>
<line x1="302.7" y1="412.6" x2="302.7" y2="416.6" stroke="#000" stroke-width="1.6"/>
<text x="306.2" y="418.8" font-size="9.7" text-anchor="end" transform="rotate(-90 306.2 418.8)">45</text>
<line x1="313.2" y1="412.6" x2="313.2" y2="416.6" stroke="#000" stroke-width="1.6"/>
<text x="316.7" y="418.8" font-size="9.7" text-anchor="end" transform="rotate(-90 316.7 418.8)">48</text>
<line x1="191.4" y1="338.2" x2="191.4" y2="412.6" stroke="#000" stroke-width="1.6"/>
<line x1="187.8" y1="412.6" x2="191.4" y2="412.6" stroke="#000" stroke-width="1.6"/>
<text x="187.1" y="416.13" font-size="9.8" text-anchor="end">0</text>
<line x1="187.8" y1="394" x2="191.4" y2="394" stroke="#000" stroke-width="1.6"/>
<text x="187.1" y="397.53" font-size="9.8" text-anchor="end">5</text>
<line x1="187.8" y1="375.4" x2="191.4" y2="375.4" stroke="#000" stroke-width="1.6"/>
<text x="187.1" y="378.93" font-size="9.8" text-anchor="end">10</text>
<line x1="187.8" y1="356.8" x2="191.4" y2="356.8" stroke="#000" stroke-width="1.6"/>
<text x="187.1" y="360.33" font-size="9.8" text-anchor="end">15</text>
<line x1="187.8" y1="338.2" x2="191.4" y2="338.2" stroke="#000" stroke-width="1.6"/>
<text x="187.1" y="341.73" font-size="9.8" text-anchor="end">20</text>
<line x1="190.6" y1="412.6" x2="315" y2="412.6" stroke="#000" stroke-width="1.6"/>
<rect x="335.05" y="406.35" width="2.5" height="5.4" fill="#fff" stroke="#000" stroke-width="1.3"/>
<rect x="338.2" y="408.7" width="3.8" height="2.4" fill="#000"/>
<line x1="338.2" y1="411.1" x2="338.2" y2="415.1" stroke="#000" stroke-width="1.6"/>
<text x="341.7" y="417.3" font-size="9.7" text-anchor="end" transform="rotate(-90 341.7 417.3)">15</text>
<rect x="345.55" y="398.25" width="2.5" height="13.5" fill="#fff" stroke="#000" stroke-width="1.3"/>
<rect x="348.7" y="408.7" width="3.8" height="2.4" fill="#000"/>
<line x1="348.7" y1="411.1" x2="348.7" y2="415.1" stroke="#000" stroke-width="1.6"/>
<text x="352.2" y="417.3" font-size="9.7" text-anchor="end" transform="rotate(-90 352.2 417.3)">18</text>
<rect x="356.05" y="381.75" width="2.5" height="30" fill="#fff" stroke="#000" stroke-width="1.3"/>
<rect x="359.2" y="399.1" width="3.8" height="12" fill="#000"/>
<line x1="359.2" y1="411.1" x2="359.2" y2="415.1" stroke="#000" stroke-width="1.6"/>
<text x="362.7" y="417.3" font-size="9.7" text-anchor="end" transform="rotate(-90 362.7 417.3)">21</text>
<rect x="366.55" y="387.15" width="2.5" height="24.6" fill="#fff" stroke="#000" stroke-width="1.3"/>
<rect x="369.7" y="404.5" width="3.8" height="6.6" fill="#000"/>
<line x1="369.7" y1="411.1" x2="369.7" y2="415.1" stroke="#000" stroke-width="1.6"/>
<text x="373.2" y="417.3" font-size="9.7" text-anchor="end" transform="rotate(-90 373.2 417.3)">24</text>
<rect x="377.05" y="374.25" width="2.5" height="37.5" fill="#fff" stroke="#000" stroke-width="1.3"/>
<rect x="380.2" y="400.9" width="3.8" height="10.2" fill="#000"/>
<line x1="380.2" y1="411.1" x2="380.2" y2="415.1" stroke="#000" stroke-width="1.6"/>
<text x="383.7" y="417.3" font-size="9.7" text-anchor="end" transform="rotate(-90 383.7 417.3)">27</text>
<rect x="387.55" y="355.65" width="2.5" height="56.1" fill="#fff" stroke="#000" stroke-width="1.3"/>
<rect x="390.7" y="400.6" width="3.8" height="10.5" fill="#000"/>
<line x1="390.7" y1="411.1" x2="390.7" y2="415.1" stroke="#000" stroke-width="1.6"/>
<text x="394.2" y="417.3" font-size="9.7" text-anchor="end" transform="rotate(-90 394.2 417.3)">30</text>
<rect x="398.05" y="354.45" width="2.5" height="57.3" fill="#fff" stroke="#000" stroke-width="1.3"/>
<rect x="401.2" y="405.7" width="3.8" height="5.4" fill="#000"/>
<line x1="401.2" y1="411.1" x2="401.2" y2="415.1" stroke="#000" stroke-width="1.6"/>
<text x="404.7" y="417.3" font-size="9.7" text-anchor="end" transform="rotate(-90 404.7 417.3)">33</text>
<rect x="408.55" y="343.05" width="2.5" height="68.7" fill="#fff" stroke="#000" stroke-width="1.3"/>
<rect x="411.7" y="395.5" width="3.8" height="15.6" fill="#000"/>
<line x1="411.7" y1="411.1" x2="411.7" y2="415.1" stroke="#000" stroke-width="1.6"/>
<text x="415.2" y="417.3" font-size="9.7" text-anchor="end" transform="rotate(-90 415.2 417.3)">36</text>
<rect x="419.05" y="361.35" width="2.5" height="50.4" fill="#fff" stroke="#000" stroke-width="1.3"/>
<rect x="422.2" y="399.7" width="3.8" height="11.4" fill="#000"/>
<line x1="422.2" y1="411.1" x2="422.2" y2="415.1" stroke="#000" stroke-width="1.6"/>
<text x="425.7" y="417.3" font-size="9.7" text-anchor="end" transform="rotate(-90 425.7 417.3)">39</text>
<rect x="429.55" y="376.35" width="2.5" height="35.4" fill="#fff" stroke="#000" stroke-width="1.3"/>
<rect x="432.7" y="403" width="3.8" height="8.1" fill="#000"/>
<line x1="432.7" y1="411.1" x2="432.7" y2="415.1" stroke="#000" stroke-width="1.6"/>
<text x="436.2" y="417.3" font-size="9.7" text-anchor="end" transform="rotate(-90 436.2 417.3)">42</text>
<rect x="440.05" y="386.25" width="2.5" height="25.5" fill="#fff" stroke="#000" stroke-width="1.3"/>
<rect x="443.2" y="407.2" width="3.8" height="3.9" fill="#000"/>
<line x1="443.2" y1="411.1" x2="443.2" y2="415.1" stroke="#000" stroke-width="1.6"/>
<text x="446.7" y="417.3" font-size="9.7" text-anchor="end" transform="rotate(-90 446.7 417.3)">45</text>
<rect x="450.55" y="400.35" width="2.5" height="11.4" fill="#fff" stroke="#000" stroke-width="1.3"/>
<rect x="453.7" y="406.6" width="3.8" height="4.5" fill="#000"/>
<line x1="453.7" y1="411.1" x2="453.7" y2="415.1" stroke="#000" stroke-width="1.6"/>
<text x="457.2" y="417.3" font-size="9.7" text-anchor="end" transform="rotate(-90 457.2 417.3)">48</text>
<line x1="333" y1="336.1" x2="333" y2="411.1" stroke="#000" stroke-width="1.6"/>
<line x1="329.4" y1="411.1" x2="333" y2="411.1" stroke="#000" stroke-width="1.6"/>
<text x="328.7" y="414.63" font-size="9.8" text-anchor="end">0</text>
<line x1="329.4" y1="396.1" x2="333" y2="396.1" stroke="#000" stroke-width="1.6"/>
<text x="328.7" y="399.63" font-size="9.8" text-anchor="end">50</text>
<line x1="329.4" y1="381.1" x2="333" y2="381.1" stroke="#000" stroke-width="1.6"/>
<text x="328.7" y="384.63" font-size="9.8" text-anchor="end">100</text>
<line x1="329.4" y1="366.1" x2="333" y2="366.1" stroke="#000" stroke-width="1.6"/>
<text x="328.7" y="369.63" font-size="9.8" text-anchor="end">150</text>
<line x1="329.4" y1="351.1" x2="333" y2="351.1" stroke="#000" stroke-width="1.6"/>
<text x="328.7" y="354.63" font-size="9.8" text-anchor="end">200</text>
<line x1="329.4" y1="336.1" x2="333" y2="336.1" stroke="#000" stroke-width="1.6"/>
<text x="328.7" y="339.63" font-size="9.8" text-anchor="end">250</text>
<line x1="332.2" y1="411.1" x2="459.2" y2="411.1" stroke="#000" stroke-width="1.6"/>
<line x1="47.1" y1="442.5" x2="196.7" y2="442.5" stroke="#000" stroke-width="1.1"/>
<text x="204.2" y="447" font-size="10.7" text-anchor="start">CDR3 length (nucleotides)</text>
<line x1="337.7" y1="442.7" x2="451.5" y2="442.7" stroke="#000" stroke-width="1.1"/>
<path d="M450.6 440.0 L457.0 442.7 L450.6 445.4 Z" fill="#000"/>
</svg>
</body></html>
